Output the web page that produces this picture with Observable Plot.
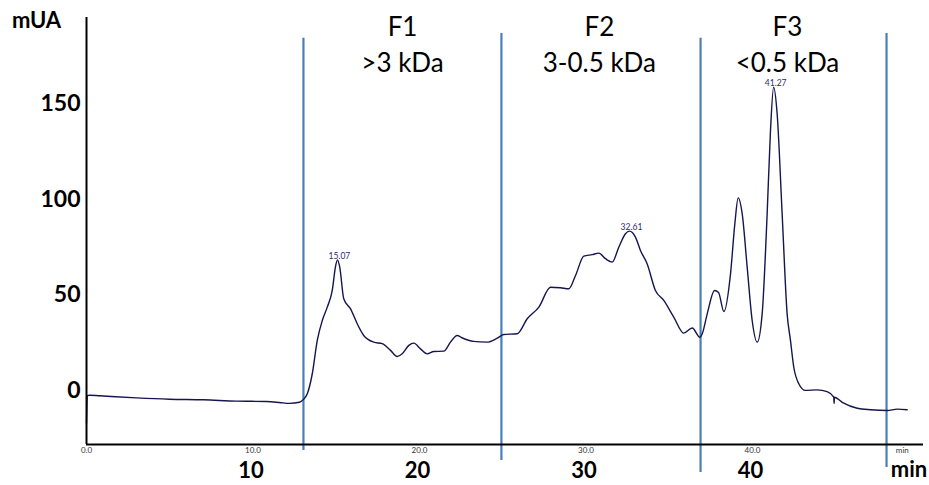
<!DOCTYPE html>
<html>
<head>
<meta charset="utf-8">
<script src="https://cdn.jsdelivr.net/npm/d3@7"></script>
<script src="https://cdn.jsdelivr.net/npm/@observablehq/plot@0.6"></script>
<style>
  html, body { margin: 0; padding: 0; background: #fff; }
  #chart svg { display: block; }
</style>
</head>
<body>
<div id="chart"></div>
<script>
// Size-exclusion chromatogram (absorbance, mUA vs retention time, min)
const traceTime = [
  0.00, 0.05, 0.18, 0.78, 3.00, 4.98, 7.03, 9.01, 10.81, 11.59, 12.19, 12.79, 13.03,
  13.26, 13.56, 13.86, 14.16, 14.46, 14.76, 14.95, 15.07, 15.21, 15.45, 15.86, 16.26,
  16.65, 17.26, 17.76, 18.26, 18.66, 18.96, 19.36, 19.66, 20.06, 20.46, 20.86, 21.46,
  21.86, 22.26, 22.55, 23.25, 24.05, 24.67, 25.06, 25.87, 26.47, 27.17, 27.87, 28.47,
  28.97, 29.37, 29.87, 30.37, 30.77, 31.17, 31.57, 31.97, 32.37, 32.61, 32.97, 33.27,
  33.67, 34.17, 34.67, 35.27, 35.87, 36.38, 36.84, 36.98, 37.28, 37.72, 37.96, 38.28,
  38.68, 38.94, 39.14, 39.38, 39.68, 39.98, 40.28, 40.58, 40.88, 41.08, 41.27, 41.48,
  41.78, 42.08, 42.28, 42.48, 42.78, 43.18, 43.88, 44.48, 44.88, 44.90, 44.92, 45.39,
  46.29, 47.09, 48.09, 48.69, 49.29
];
const traceSignal = [
  -17.0, -2.5, -2.3, -2.6, -3.7, -4.4, -4.7, -5.4, -5.6, -6.1, -6.6, -6.0, -4.5,
  -1.6, 8.9, 26.3, 36.7, 43.7, 52.4, 64.6, 68.4, 64.6, 48.1, 42.8, 35.0,
  28.9, 25.4, 24.6, 21.1, 17.9, 19.3, 23.7, 24.9, 21.9, 19.3, 20.5, 20.7,
  25.4, 28.9, 27.7, 25.8, 25.4, 27.5, 29.4, 29.8, 37.6, 43.7, 54.1, 53.8,
  53.3, 60.2, 70.3, 71.1, 71.9, 69.0, 67.2, 75.0, 82.0, 83.4, 80.3, 73.3,
  66.4, 52.4, 47.2, 38.5, 30.1, 32.8, 28.0, 29.8, 40.2, 52.4, 51.4, 41.4,
  61.1, 87.3, 100.8, 92.5, 64.6, 36.7, 25.4, 40.2, 92.5, 136.0, 158.6, 144.7,
  92.5, 40.2, 26.3, 12.3, 3.7, 0.2, 0.5, -0.4, -3.3, -6.6, -3.4, -6.0,
  -9.1, -9.9, -10.3, -9.6, -9.9
];

// Labelled peaks (retention time, min)
const peakTimes = [15.07, 32.61, 41.27];
const peakLabels = ["15.07", "32.61", "41.27"];

// Fraction cut points (min) and fraction names
const cutTimes = [13.03, 24.92, 36.88, 48.05];
const fractionCenters = [18.98, 30.8, 42.1];
const fractionNames = ["F1", "F2", "F3"];
const fractionSizes = [">3 kDa", "3-0.5 kDa", "<0.5 kDa"];

// Axis ticks
const yTicks = [0, 50, 100, 150];
const xTicksFine = [0, 10, 20, 30, 40];
const xTicksBold = [10, 20, 30, 40];

const trace = traceTime.map((t, i) => ({t, v: traceSignal[i]}));
const peaks = peakTimes.map((t, i) => ({
  t, label: peakLabels[i],
  v: traceSignal[traceTime.indexOf(t)]
}));
const fractions = fractionNames.map((name, i) => ({
  t: fractionCenters[i], name, size: fractionSizes[i]
}));

const X0 = 0, X1 = 50.27;
const Y0 = -28.06, Y1 = 195;
const ruleTop = [184.1, 186.7, 184.1, 186.7];
const ruleBottom = [-31.2, -36.4, -42.7, -40.1];
const cuts = cutTimes.map((t, i) => ({t, y1: ruleBottom[i], y2: ruleTop[i]}));

const font = "Lato, 'Open Sans', sans-serif";

const chart = Plot.plot({
  width: 929,
  height: 485,
  marginLeft: 86,
  marginRight: 6,
  marginTop: 17,
  marginBottom: 41,
  style: {fontFamily: font, background: "#fff", overflow: "visible"},
  x: {domain: [X0, X1]},
  y: {domain: [Y0, Y1]},
  marks: [
    // fraction boundaries
    Plot.ruleX(cuts, {x: "t", y1: "y1", y2: "y2", stroke: "#4a7ebb", strokeWidth: 2.2}),
    // chromatogram trace
    Plot.line(trace, {x: "t", y: "v", stroke: "#15154f", strokeWidth: 1.4, curve: "monotone-x"}),
    // axes lines
    Plot.ruleX([X0], {y1: Y0, y2: Y1, stroke: "#000", strokeWidth: 2}),
    Plot.ruleY([Y0], {x1: X0, x2: X1, stroke: "#000", strokeWidth: 2}),
    // y axis
    Plot.axisY({ticks: yTicks, tickSize: 0, tickPadding: 6, label: null,
      fontSize: 23, fontWeight: "bold", fill: "#000"}),
    Plot.text(["mUA"], {x: -3.0, y: 193.4, text: d => d, fontSize: 22, fontWeight: "bold", fill: "#000"}),
    // fine x axis (instrument scale)
    Plot.axisX({ticks: xTicksFine, tickSize: 0, tickPadding: 3, label: null,
      tickFormat: d => d.toFixed(1), fontSize: 8, fill: "#333"}),
    Plot.text(["min"], {x: 49.0, y: -31.2, text: d => d, fontSize: 8, fill: "#333"}),
    // bold x axis
    Plot.axisX({ticks: xTicksBold, tickSize: 0, tickPadding: 18, label: null, dx: -2,
      tickFormat: d => String(d), fontSize: 22, fontWeight: "bold", fill: "#000"}),
    Plot.text(["min"], {x: 49.4, y: -41.6, text: d => d, fontSize: 22, fontWeight: "bold", fill: "#000"}),
    // peak labels
    Plot.text(peaks, {x: "t", y: "v", text: "label", lineAnchor: "bottom", dx: 2, dy: -1,
      fontSize: 8.5, fill: "#2c2c6e"}),
    // fraction labels
    Plot.text(fractions, {x: "t", y: 189.8, text: "name", fontSize: 26, fill: "#000"}),
    Plot.text(fractions, {x: "t", y: 171.1, text: "size", fontSize: 26, fill: "#000"})
  ]
});

document.getElementById("chart").appendChild(chart);
</script>
</body>
</html>
